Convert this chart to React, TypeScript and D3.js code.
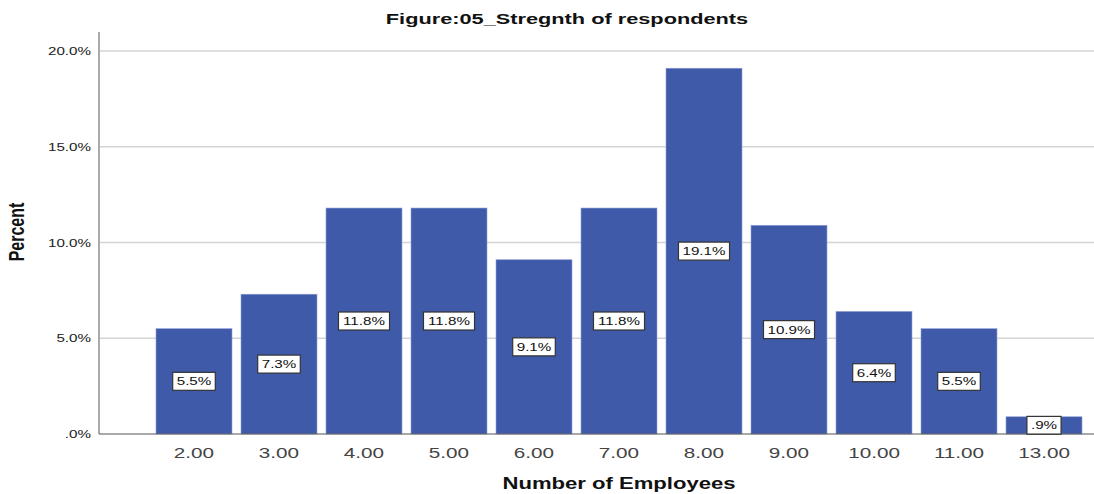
import React from "react";
import * as d3 from "d3";

const categories = ["2.00", "3.00", "4.00", "5.00", "6.00", "7.00", "8.00", "9.00", "10.00", "11.00", "13.00"];
const percents = [5.5, 7.3, 11.8, 11.8, 9.1, 11.8, 19.1, 10.9, 6.4, 5.5, 0.9];
const yTicks = [0, 5, 10, 15, 20];

const W = 1094;
const H = 494;
const FONT = "'Liberation Sans', Arial, sans-serif";
// the chart's lettering is set wide
const SX = 1.38;

const fmtPct = (v: number) => {
  const s = v.toFixed(1);
  return (s.startsWith("0") ? s.slice(1) : s) + "%";
};

// rough Arial advance widths in em
const textWidth = (s: string, size: number) =>
  s.split("").reduce((w, ch) => w + (ch === "." ? 0.278 : ch === "%" ? 0.889 : 0.556), 0) * size;

type WideProps = {
  x: number;
  y: number;
  anchor?: "start" | "middle" | "end";
  size: number;
  bold?: boolean;
  fill?: string;
  sx?: number;
  children: React.ReactNode;
};

function WideText({ x, y, anchor = "middle", size, bold, fill = "#111", sx = SX, children }: WideProps) {
  return (
    <text
      transform={`translate(${x},${y}) scale(${sx},1)`}
      textAnchor={anchor}
      fontFamily={FONT}
      fontWeight={bold ? "bold" : "normal"}
      fontSize={size}
      fill={fill}
    >
      {children}
    </text>
  );
}

export default function App() {
  const axisX = 99;
  const x = d3.scaleBand<string>().domain(categories).range([151.5, 1086.5]).paddingInner(0.106).paddingOuter(0.053);
  const y = d3.scaleLinear().domain([0, 20]).range([434, 51]);

  return (
    <svg width={W} height={H} style={{ position: "absolute", left: 0, top: 0, background: "#fff" }}>
      <WideText x={567} y={24} size={15} bold sx={1.45}>
        Figure:05_Stregnth of respondents
      </WideText>

      {yTicks.map((t) => (
        <g key={t}>
          {t > 0 && <line x1={axisX} x2={W} y1={y(t)} y2={y(t)} stroke="#d4d4d4" strokeWidth={1.3} />}
          <WideText x={91} y={y(t) + 4} anchor="end" size={11} fill="#222">
            {fmtPct(t)}
          </WideText>
        </g>
      ))}

      {categories.map((c, i) => {
        const bx = x(c)!;
        const bw = x.bandwidth();
        const top = y(percents[i]);
        const mid = (top + y(0)) / 2;
        const label = fmtPct(percents[i]);
        const tw = textWidth(label, 11) * SX + 8;
        return (
          <g key={c}>
            <rect x={bx} y={top} width={bw} height={y(0) - top} fill="#3F5AA8" stroke="#8FA0D6" strokeWidth={0.6} />
            <rect x={bx + bw / 2 - tw / 2} y={mid - 9} width={tw} height={18} fill="#fff" stroke="#333" strokeWidth={1.2} />
            <WideText x={bx + bw / 2} y={mid + 4} size={11} fill="#111">
              {label}
            </WideText>
            <WideText x={bx + bw / 2} y={458} size={15} fill="#444">
              {c}
            </WideText>
          </g>
        );
      })}

      <line x1={axisX} x2={axisX} y1={32} y2={434} stroke="#aaa" strokeWidth={2} />
      <line x1={axisX} x2={W} y1={434} y2={434} stroke="#555" strokeWidth={1.2} />

      <text
        transform={`translate(24,232) rotate(-90) scale(1,${SX})`}
        textAnchor="middle"
        fontFamily={FONT}
        fontWeight="bold"
        fontSize={16}
        fill="#111"
      >
        Percent
      </text>
      <WideText x={619} y={489} size={16} bold>
        Number of Employees
      </WideText>
    </svg>
  );
}
